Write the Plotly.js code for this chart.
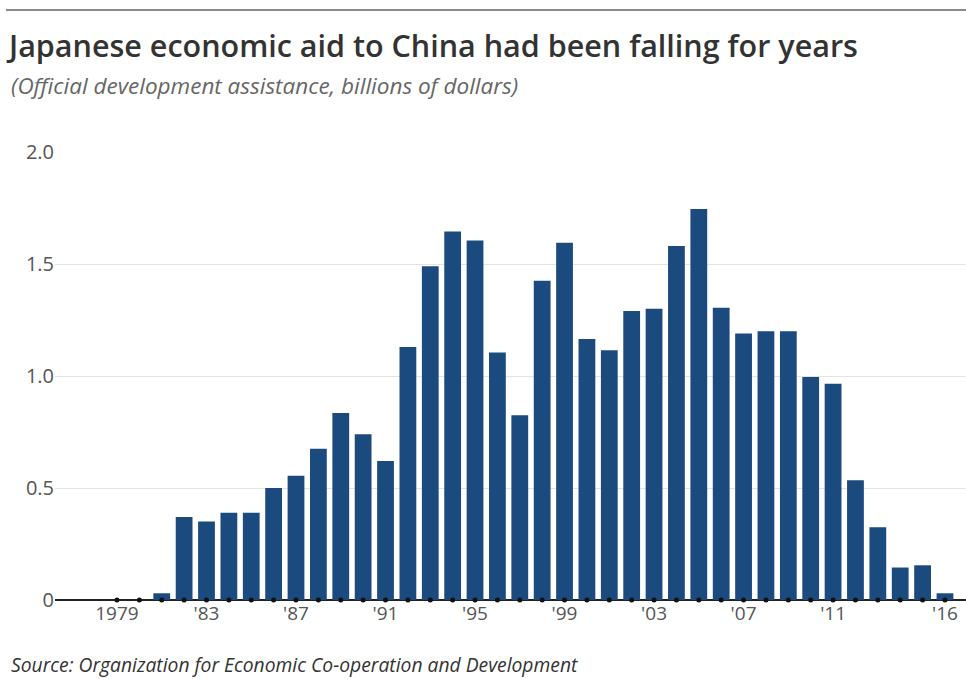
<!DOCTYPE html>
<html>
<head>
<meta charset="utf-8">
<script src="https://cdn.plot.ly/plotly-3.0.1.min.js"></script>
<style>html,body{margin:0;padding:0;background:#fff;}#chart{width:966px;height:679px;}</style>
</head>
<body>
<div id="chart"></div>
<script>
const years = [1979,1980,1981,1982,1983,1984,1985,1986,1987,1988,1989,1990,1991,1992,1993,1994,1995,1996,1997,1998,1999,2000,2001,2002,2003,2004,2005,2006,2007,2008,2009,2010,2011,2012,2013,2014,2015,2016];
const aid = [0,0,0.03,0.37,0.35,0.39,0.39,0.50,0.555,0.675,0.835,0.74,0.62,1.13,1.49,1.645,1.605,1.105,0.825,1.425,1.595,1.165,1.115,1.29,1.30,1.58,1.745,1.305,1.19,1.20,1.20,0.995,0.965,0.535,0.325,0.145,0.155,0.03];
const tickYears = [1979,1983,1987,1991,1995,1999,2003,2007,2011,2016];
const tickLabels = ["1979","'83","'87","'91","'95","'99","'03","'07","'11","'16"];
const yTicks = [0,0.5,1.0,1.5,2.0];
const yLabels = ["0","0.5","1.0","1.5","2.0"];
const titleText = "Japanese economic aid to China had been falling for years";
const subtitleText = "(Official development assistance, billions of dollars)";
const sourceText = "Source: Organization for Economic Co-operation and Development";

const traces = [
  {type:'bar', x: years, y: aid, marker:{color:'#1b4a7f'}, hoverinfo:'x+y'},
  {type:'scatter', mode:'markers', x: years, y: years.map(()=>0), marker:{color:'#111', size:5}, cliponaxis:false, hoverinfo:'skip'}
];
const layout = {
  width:966, height:679,
  margin:{l:55, r:0, t:152, b:79},
  paper_bgcolor:'#fff', plot_bgcolor:'#fff',
  showlegend:false,
  bargap:0.25,
  font:{family:'"Open Sans", sans-serif', color:'#555'},
  title:{text:titleText, xref:'container', yref:'container', x:9/966, xanchor:'left', y:1-46/679, yanchor:'middle',
    font:{family:'"Open Sans", sans-serif', size:30.5, weight:600, color:'#333'}},
  xaxis:{range:[1976.23,2016.94], tickmode:'array', tickvals:tickYears, ticktext:tickLabels, showgrid:false, zeroline:false, showline:false,
    ticks:'', ticklen:0, tickfont:{size:19, color:'#555'}, fixedrange:true},
  yaxis:{range:[0,2.0], tickmode:'array', tickvals:yTicks, ticktext:yLabels, showgrid:true, gridcolor:'#e3e3e3', gridwidth:1,
    zeroline:true, zerolinecolor:'#222', zerolinewidth:1.5, showline:false, ticks:'', tickfont:{size:20, color:'#555'}, fixedrange:true},
  shapes:[{type:'line', xref:'paper', yref:'paper', x0:-49/911, x1:1, y0:(600-10)/448, y1:(600-10)/448, line:{color:'#8a8a8a', width:2}}],
  annotations:[
    {text:subtitleText, xref:'paper', yref:'paper', x:-46/911, y:(600-86)/448, xanchor:'left', yanchor:'middle', showarrow:false,
      font:{family:'"Open Sans", sans-serif', size:22.5, color:'#666', style:'italic'}},
    {text:sourceText, xref:'paper', yref:'paper', x:-46/911, y:(600-664)/448, xanchor:'left', yanchor:'middle', showarrow:false,
      font:{family:'"Open Sans", sans-serif', size:19.3, color:'#333', style:'italic'}}
  ]
};
Plotly.newPlot('chart', traces, layout, {displayModeBar:false, staticPlot:true});
</script>
</body>
</html>
